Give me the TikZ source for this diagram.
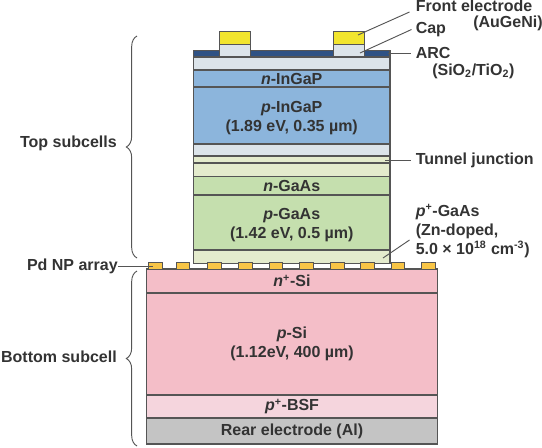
\documentclass[tikz,border=0pt]{standalone}
\usepackage{fontspec}
\usepackage{xcolor}
\setmainfont{Liberation Sans}
\usetikzlibrary{decorations.pathreplacing}
\definecolor{txtgray}{HTML}{333333}
\definecolor{edgegray}{HTML}{555555}
\definecolor{arcblue}{HTML}{2F5284}
\definecolor{goldyellow}{HTML}{F2E52E}
\definecolor{capgray}{HTML}{DCE4EA}
\definecolor{ingapblue}{HTML}{8CB5DC}
\definecolor{tunnelgreen}{HTML}{E4EBCD}
\definecolor{gaasgreen}{HTML}{C5DFAE}
\definecolor{sipink}{HTML}{F4BEC8}
\definecolor{bsfpink}{HTML}{F5D5DD}
\definecolor{reargray}{HTML}{C4C4C4}
\definecolor{pdorange}{HTML}{F8C546}
\newcommand{\lowerstrut}{\rule{0pt}{12pt}}
\tikzset{
  layerbox/.style={draw=edgegray, line width=0.8pt, align=center, inner sep=0pt, text=txtgray, font=\fontsize{12pt}{14.5pt}\bfseries},
  toplayer/.style={layerbox, minimum width=147.4pt},
  botlayer/.style={layerbox, minimum width=218.2pt},
  gridbox/.style={draw=edgegray, line width=0.7pt, inner sep=0pt, minimum width=23.4pt},
  pdbox/.style={draw=edgegray, line width=0.7pt, fill=pdorange, inner sep=0pt, minimum width=10pt, minimum height=5.2pt},
  sidelabel/.style={align=left, inner sep=0pt, text=txtgray, font=\fontsize{12pt}{14.5pt}\bfseries},
  leader/.style={draw=edgegray, line width=0.7pt},
  sidebrace/.style={draw=edgegray, line width=0.7pt, decorate, decoration={brace, amplitude=8pt}}
}
\begin{document}
\begin{tikzpicture}[x=0.75pt, y=-0.75pt]
\useasboundingbox (0,0) rectangle (542,447);
% top subcells
\node[toplayer, fill=arcblue, minimum height=5.2pt] (arc) at (291.7,53.5) {};
\node[toplayer, fill=capgray, minimum height=9.8pt] (window) at (291.7,63.5) {};
\node[toplayer, fill=ingapblue, minimum height=12.8pt] (ningap) at (291.7,78.5) {\textit{n}-InGaP};
\node[toplayer, fill=ingapblue, minimum height=42.8pt] (pingap) at (291.7,115.5) {\lowerstrut\textit{p}-InGaP\\(1.89 eV, 0.35 µm)};
\node[toplayer, fill=capgray, minimum height=9pt] (tunnela) at (291.7,150) {};
\node[toplayer, fill=tunnelgreen, minimum height=5.2pt] (tunnelb) at (291.7,159.5) {};
\node[toplayer, fill=tunnelgreen, minimum height=9.8pt] (tunnelc) at (291.7,169.5) {};
\node[toplayer, fill=gaasgreen, minimum height=14.2pt] (ngaas) at (291.7,185.5) {\textit{n}-GaAs};
\node[toplayer, fill=gaasgreen, minimum height=41.2pt] (pgaas) at (291.7,222.5) {\lowerstrut\textit{p}-GaAs\\(1.42 eV, 0.5 µm)};
\node[toplayer, fill=tunnelgreen, minimum height=9.8pt] (pplusgaas) at (291.7,256.5) {};
% front grid
\node[gridbox, fill=capgray, minimum height=9pt] (capa) at (235,50) {};
\node[gridbox, fill=goldyellow, minimum height=9.8pt] (golda) at (235,37.5) {};
\node[gridbox, fill=capgray, minimum height=9pt] (capb) at (349,50) {};
\node[gridbox, fill=goldyellow, minimum height=9.8pt] (goldb) at (349,37.5) {};
% bottom subcell
\node[botlayer, fill=sipink, minimum height=18pt] (nsi) at (292,281) {\textit{n}\textsuperscript{+}-Si};
\node[botlayer, fill=sipink, minimum height=76.5pt] (psi) at (292,344) {\textit{p}-Si\\(1.12eV, 400 µm)};
\node[botlayer, fill=bsfpink, minimum height=17.2pt] (bsf) at (292,406.5) {\textit{p}\textsuperscript{+}-BSF};
\node[botlayer, fill=reargray, minimum height=19.5pt] (rear) at (292,431) {Rear electrode (Al)};
% Pd particles
\foreach \i/\xx in {1/155.5,2/183,3/214.5,4/245.5,5/276,6/306.5,7/337.5,8/367.5,9/398,10/428.5}
  \node[pdbox] (pd\i) at (\xx,265.5) {};
% labels
\node[sidelabel, anchor=west] (frontlab) at (415.5,6) {Front electrode};
\node[sidelabel, anchor=west] (aulab) at (473,23) {(AuGeNi)};
\node[sidelabel, anchor=west] (caplab) at (415.5,29.5) {Cap};
\node[sidelabel, anchor=west] (arclab) at (415.5,53) {ARC};
\node[sidelabel, anchor=west] (siolab) at (432,71) {(SiO\textsubscript{2}/TiO\textsubscript{2})};
\node[sidelabel, anchor=west] (tunnellab) at (415.5,160) {Tunnel junction};
\node[sidelabel, anchor=west] (ppluslab) at (415.5,231) {\textit{p}\textsuperscript{+}-GaAs\\(Zn-doped,\\5.0 × 10\textsuperscript{18} cm\textsuperscript{-3})};
\node[sidelabel, anchor=east] (pdlab) at (118,266) {Pd NP array};
\node[sidelabel, anchor=east] (toplab) at (117,143) {Top subcells};
\node[sidelabel, anchor=east] (botlab) at (117,357) {Bottom subcell};
% leaders
\coordinate (frontend) at (358,35);
\coordinate (capend) at (360,53);
\coordinate (arcend) at (388,53);
\coordinate (tunnelend) at (385,160);
\coordinate (gaasend) at (383,258);
\coordinate (pdend) at (153,266);
\draw[leader] (frontlab.west)+(-6,6) -- (frontend);
\draw[leader] (caplab.west)+(-4,0) -- (capend);
\draw[leader] (arclab.west)+(-5,0) -- (arcend);
\draw[leader] (tunnellab.west)+(-5,0) -- (tunnelend);
\draw[leader] (ppluslab.west)+(-6,9) -- (gaasend);
\draw[leader] (pdlab.east) -- (pdend);
% braces
\coordinate (topa) at (137,36);
\coordinate (topb) at (137,258);
\coordinate (bota) at (137,271);
\coordinate (botb) at (137,446);
\draw[sidebrace] (topb) -- (topa);
\draw[sidebrace] (botb) -- (bota);
\end{tikzpicture}
\end{document}
